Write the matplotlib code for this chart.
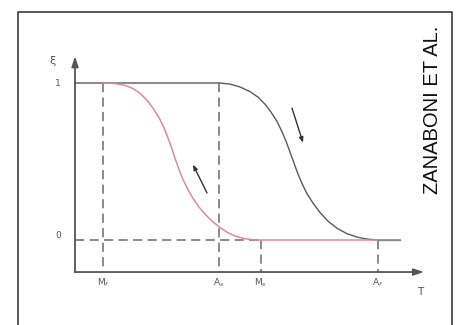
import matplotlib
matplotlib.use("Agg")
import matplotlib.pyplot as plt

# Temperature positions of characteristic points (arbitrary units)
T_Mf, T_As, T_Ms, T_Af = 28, 144, 186, 303
T_end = 325
char_labels = ["M$_f$", "A$_s$", "M$_s$", "A$_f$"]

# Cooling (red) curve: martensite fraction xi vs T
red_T  = [28, 40, 50, 58, 65, 72, 78, 84, 89, 93, 97, 100, 104, 108, 113, 118, 124, 130, 137, 145, 152, 160, 170, 180, 325]
red_xi = [1.0, 0.997, 0.985, 0.965, 0.935, 0.89, 0.84, 0.78, 0.715, 0.65, 0.58, 0.52, 0.45, 0.385, 0.32, 0.265, 0.21, 0.165, 0.12, 0.08, 0.05, 0.025, 0.008, 0.0, 0.0]

# Heating (black) curve
blk_T  = [0, 145, 155, 165, 175, 183, 190, 196, 202, 207, 211, 215, 219, 223, 227, 232, 238, 245, 253, 262, 272, 283, 293, 303, 325]
blk_xi = [1.0, 1.0, 0.993, 0.975, 0.945, 0.91, 0.865, 0.815, 0.755, 0.69, 0.63, 0.56, 0.49, 0.42, 0.36, 0.295, 0.235, 0.175, 0.12, 0.075, 0.04, 0.017, 0.005, 0.0, 0.0]

fig = plt.figure(figsize=(4.57, 3.25), dpi=100)
ax = fig.add_axes([0, 0, 1, 1])
ax.set_xlim(-75, 382)
ax.set_ylim(-0.5414, 1.5287)
ax.axis("off")

gray = "#6a6a6a"
dash = (0, (6, 3.5))

# outer frame (open at bottom)
ax.plot([0.0394, 0.0394, 0.989, 0.989], [0.0, 0.963, 0.963, 0.0],
        transform=ax.transAxes, color="#3a3a3a", lw=1.2, clip_on=False)

y_axis_bottom = -0.204
# dashed guide lines
ax.plot([T_Mf, T_Mf], [1, y_axis_bottom], color=gray, lw=1.1, ls=dash)
ax.plot([T_As, T_As], [1, y_axis_bottom], color=gray, lw=1.1, ls=dash)
ax.plot([T_Ms, T_Ms], [0, y_axis_bottom], color=gray, lw=1.1, ls=dash)
ax.plot([T_Af, T_Af], [0, y_axis_bottom], color=gray, lw=1.1, ls=dash)
ax.plot([0, T_Ms], [0, 0], color=gray, lw=1.1, ls=dash)

# curves
ax.plot(blk_T, blk_xi, color="#5a5a5a", lw=1.0)
ax.plot(red_T, red_xi, color="#d88c98", lw=1.1)
ax.plot([T_Af, T_end], [0, 0], color="#8a8a8a", lw=1.0)

# axes with arrows
ax.annotate("", xy=(0, 1.17), xytext=(0, y_axis_bottom),
            arrowprops=dict(arrowstyle="-|>,head_length=0.6,head_width=0.2", color="#555", lw=1.3, shrinkA=0, shrinkB=0))
ax.annotate("", xy=(349, y_axis_bottom), xytext=(-0.5, y_axis_bottom),
            arrowprops=dict(arrowstyle="-|>,head_length=0.6,head_width=0.2", color="#555", lw=1.3, shrinkA=0, shrinkB=0))

# direction arrows
ax.annotate("", xy=(T_As + 84, 0.62), xytext=(T_As + 73, 0.84),
            arrowprops=dict(arrowstyle="-|>,head_length=0.3,head_width=0.12", color="#333", lw=1.0, shrinkA=0, shrinkB=0))
ax.annotate("", xy=(118, 0.48), xytext=(132, 0.30),
            arrowprops=dict(arrowstyle="-|>,head_length=0.3,head_width=0.12", color="#333", lw=1.0, shrinkA=0, shrinkB=0))

# text labels
tc = "#555555"
ax.text(-23, 1.14, "ξ", ha="center", va="center", fontsize=8, color=tc)
ax.text(-17, 1.0, "1", ha="center", va="center", fontsize=6.5, color=tc)
ax.text(-17, 0.03, "0", ha="center", va="center", fontsize=6.5, color=tc)
for T, lab in zip([T_Mf, T_As, T_Ms, T_Af], char_labels):
    ax.text(T, -0.27, lab, ha="center", va="center", fontsize=6.5, color=tc)
ax.text(345, -0.33, "T", ha="center", va="center", fontsize=7.5, color=tc)

ax.text(357, 0.83, "ZANABONI ET AL.", rotation=90, ha="center", va="center",
        fontsize=14.5, color="#111", family="Liberation Sans")

fig.savefig("out.png", dpi=100)
